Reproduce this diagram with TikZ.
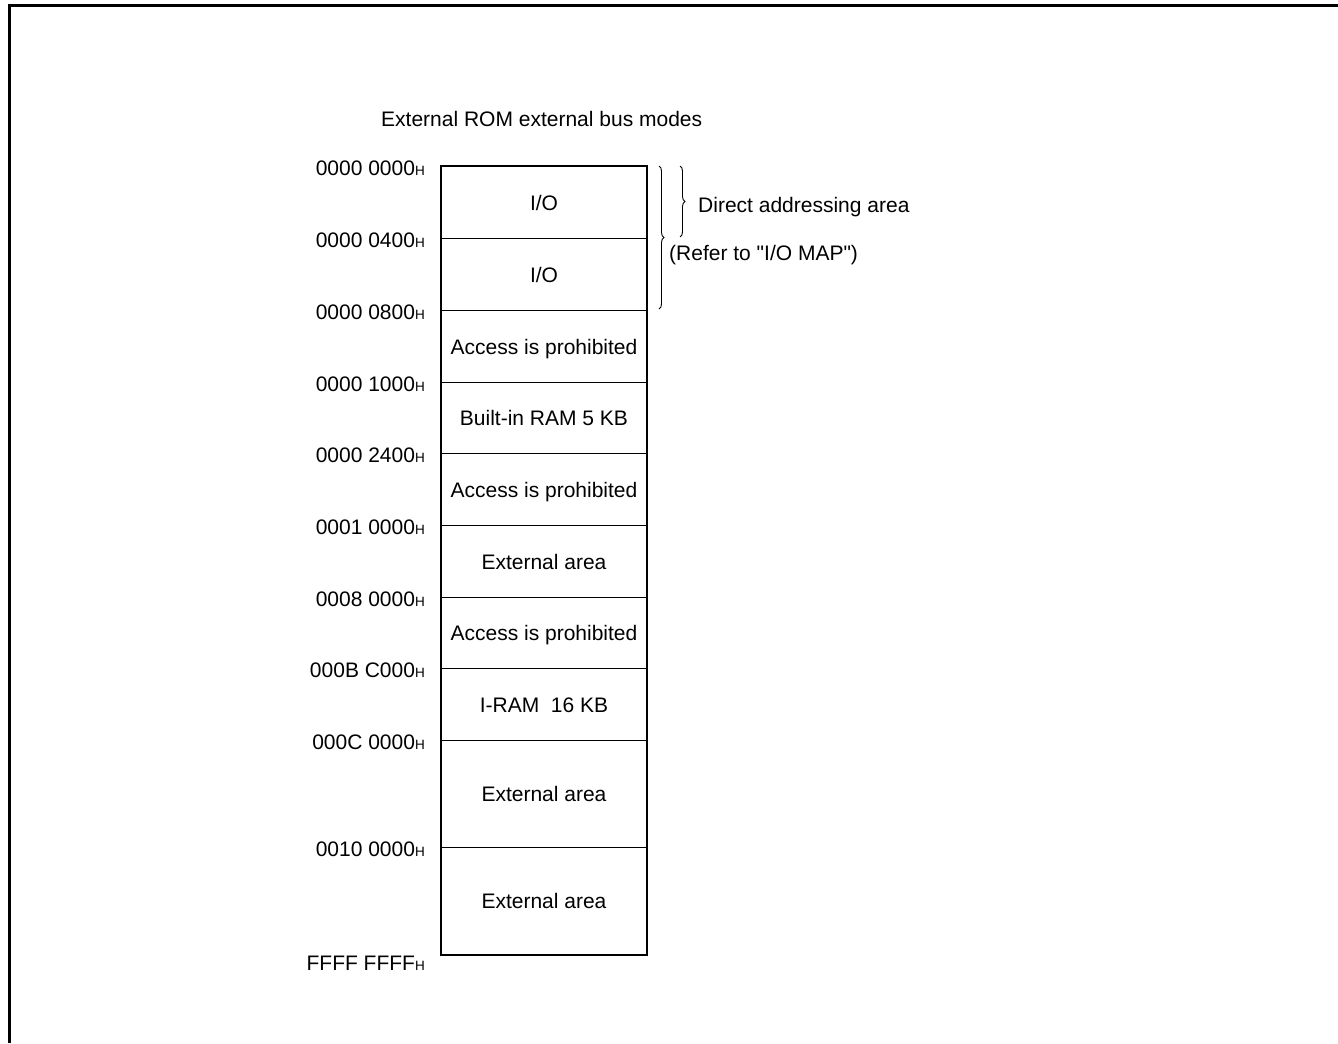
\documentclass[tikz,border=0pt]{standalone}
\usepackage{fontspec}
\setmainfont{Liberation Sans}
\usetikzlibrary{decorations.pathreplacing}
\begin{document}
\begin{tikzpicture}[x=1bp,y=-1bp,
  every node/.style={font=\fontsize{21bp}{25bp}\selectfont, inner sep=0pt},
  cell/.style={draw, line width=1bp, minimum width=205bp, anchor=north west, text height=15bp, text depth=0pt},
  addr/.style={anchor=base east},
  bracestyle/.style={decorate, line width=0.9bp, decoration={brace, amplitude=5bp, aspect=0.5}}]
\useasboundingbox (0,0) rectangle (1338,1043);
\newcommand{\hsub}{\fontsize{13.5bp}{13.5bp}\selectfont H}
% frame
\draw[line width=3bp] (9,1043) -- (9,5) -- (1338,5);
% title
\node[anchor=base west] (title) at (381,126) {External ROM external bus modes};
% cells
\node[cell, minimum height=72bp] (c1) at (441,166) {I/O};
\node[cell, minimum height=72bp] (c2) at (441,238) {I/O};
\node[cell, minimum height=72bp] (c3) at (441,310) {Access is prohibited};
\node[cell, minimum height=71bp] (c4) at (441,382) {Built-in RAM 5 KB};
\node[cell, minimum height=72bp] (c5) at (441,453) {Access is prohibited};
\node[cell, minimum height=72bp] (c6) at (441,525) {External area};
\node[cell, minimum height=71bp] (c7) at (441,597) {Access is prohibited};
\node[cell, minimum height=72bp] (c8) at (441,668) {I-RAM\ \ 16 KB};
\node[cell, minimum height=107bp] (c9) at (441,740) {External area};
\node[cell, minimum height=107bp] (c10) at (441,847) {External area};
\draw[line width=2.6bp] (c1.north west) rectangle (c10.south east);
% addresses
\node[addr] (a1) at (425,175.5) {0000 0000\hsub};
\node[addr] (a2) at (425,247.5) {0000 0400\hsub};
\node[addr] (a3) at (425,319.5) {0000 0800\hsub};
\node[addr] (a4) at (425,391.5) {0000 1000\hsub};
\node[addr] (a5) at (425,462.5) {0000 2400\hsub};
\node[addr] (a6) at (425,534.5) {0001 0000\hsub};
\node[addr] (a7) at (425,606.5) {0008 0000\hsub};
\node[addr] (a8) at (425,677.5) {000B C000\hsub};
\node[addr] (a9) at (425,749.5) {000C 0000\hsub};
\node[addr] (a10) at (425,856.5) {0010 0000\hsub};
\node[addr] (a11) at (425,970) {FFFF FFFF\hsub};
% braces
\draw[bracestyle] (680,166) -- (680,237);
\draw[bracestyle] (659,166) -- (659,309);
\node[anchor=base west] (dir) at (698,212.5) {Direct addressing area};
\node[anchor=base west] (ref) at (669,260.5) {(Refer to \textquotedbl I/O MAP\textquotedbl)};
\end{tikzpicture}
\end{document}
